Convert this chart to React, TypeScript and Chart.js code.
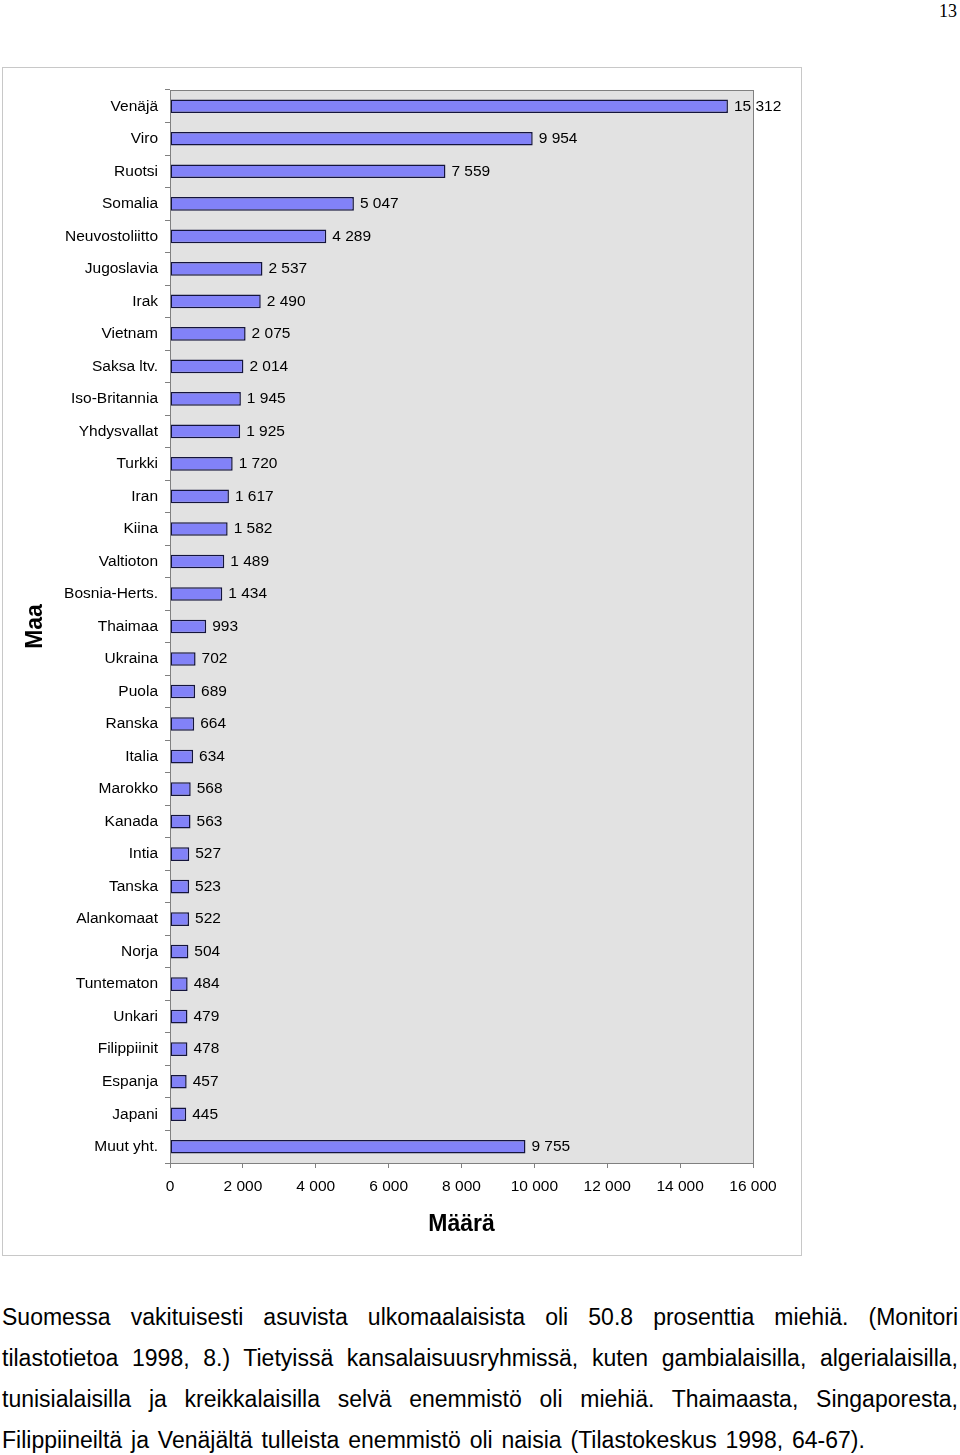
import React, { useEffect, useRef } from "react";
import { Chart, registerables } from "chart.js";

Chart.register(...registerables);

const categories: string[] = [
  "Venäjä", "Viro", "Ruotsi", "Somalia", "Neuvostoliitto", "Jugoslavia", "Irak", "Vietnam",
  "Saksa ltv.", "Iso-Britannia", "Yhdysvallat", "Turkki", "Iran", "Kiina", "Valtioton",
  "Bosnia-Herts.", "Thaimaa", "Ukraina", "Puola", "Ranska", "Italia", "Marokko", "Kanada",
  "Intia", "Tanska", "Alankomaat", "Norja", "Tuntematon", "Unkari", "Filippiinit", "Espanja",
  "Japani", "Muut yht.",
];

const values: number[] = [
  15312, 9954, 7559, 5047, 4289, 2537, 2490, 2075, 2014, 1945, 1925, 1720, 1617, 1582, 1489,
  1434, 993, 702, 689, 664, 634, 568, 563, 527, 523, 522, 504, 484, 479, 478, 457, 445, 9755,
];

const xMin = 0;
const xMax = 16000;
const xStep = 2000;

const xTitle = "Määrä";
const yTitle = "Maa";

const paragraph =
  "Suomessa vakituisesti asuvista ulkomaalaisista oli 50.8 prosenttia miehiä. (Monitori tilastotietoa 1998, 8.) Tietyissä kansalaisuusryhmissä, kuten gambialaisilla, algerialaisilla, tunisialaisilla ja kreikkalaisilla selvä enemmistö oli miehiä. Thaimaasta, Singaporesta, Filippiineiltä ja Venäjältä tulleista enemmistö oli naisia (Tilastokeskus 1998, 64-67).";

const FONT = "'Liberation Sans', Arial, Helvetica, sans-serif";

const fmt = (v: number) => {
  const s = String(Math.round(v));
  return s.replace(/\B(?=(\d{3})+(?!\d))/g, " ");
};

const plotBg = {
  id: "plotBg",
  beforeDraw(chart: any) {
    const { ctx, chartArea } = chart;
    if (!chartArea) return;
    ctx.save();
    ctx.fillStyle = "#e2e2e2";
    ctx.fillRect(chartArea.left, chartArea.top, chartArea.right - chartArea.left, chartArea.bottom - chartArea.top);
    ctx.restore();
  },
  afterDraw(chart: any) {
    const { ctx, chartArea } = chart;
    ctx.save();
    ctx.strokeStyle = "#808080";
    ctx.lineWidth = 1;
    ctx.strokeRect(
      Math.round(chartArea.left) + 0.5,
      Math.round(chartArea.top) + 0.5,
      Math.round(chartArea.right - chartArea.left),
      Math.round(chartArea.bottom - chartArea.top)
    );
    ctx.restore();
  },
};

const valueLabels = {
  id: "valueLabels",
  afterDatasetsDraw(chart: any) {
    const { ctx } = chart;
    const meta = chart.getDatasetMeta(0);
    const data = chart.data.datasets[0].data as number[];
    ctx.save();
    ctx.font = `15.5px ${FONT}`;
    ctx.fillStyle = "#000";
    ctx.textAlign = "left";
    ctx.textBaseline = "middle";
    meta.data.forEach((el: any, i: number) => {
      ctx.fillText(fmt(data[i]), el.x + 6, el.y);
    });
    ctx.restore();
  },
};

function BarChart() {
  const ref = useRef<HTMLCanvasElement | null>(null);
  useEffect(() => {
    if (!ref.current) return;
    const chart = new Chart(ref.current, {
      type: "bar",
      data: {
        labels: categories,
        datasets: [
          {
            data: values,
            backgroundColor: "#8282f8",
            borderColor: "#14143c",
            borderWidth: 1.5,
            borderSkipped: false,
            barPercentage: 0.42,
            categoryPercentage: 1,
          },
        ],
      },
      options: {
        indexAxis: "y",
        animation: false,
        responsive: false,
        maintainAspectRatio: false,
        devicePixelRatio: 1,
        layout: { padding: { top: 23, right: 49, left: 0, bottom: 0 } },
        plugins: {
          legend: { display: false },
          tooltip: { enabled: false },
        },
        scales: {
          x: {
            type: "linear",
            min: xMin,
            max: xMax,
            afterFit(scale: any) {
              scale.height = 93;
            },
            ticks: {
              stepSize: xStep,
              color: "#000",
              font: { size: 15.5, family: FONT },
              padding: 9,
              maxRotation: 0,
              callback: (v: any) => fmt(Number(v)),
            },
            grid: {
              drawOnChartArea: false,
              drawTicks: true,
              tickLength: 5,
              color: "#808080",
            },
            border: { display: true, color: "#808080" },
            title: {
              display: true,
              text: xTitle,
              color: "#000",
              font: { size: 23, weight: "bold", family: FONT },
              padding: { top: 0, bottom: 18 },
            },
          },
          y: {
            type: "category",
            afterFit(scale: any) {
              scale.width = 168;
            },
            ticks: {
              color: "#000",
              font: { size: 15.5, family: FONT },
              padding: 7,
              autoSkip: false,
            },
            grid: {
              drawOnChartArea: false,
              drawTicks: true,
              tickLength: 5,
              offset: true,
              color: "#808080",
            },
            border: { display: true, color: "#808080" },
            title: {
              display: true,
              text: yTitle,
              color: "#000",
              font: { size: 23, weight: "bold", family: FONT },
              padding: { top: 20, bottom: 0 },
            },
          },
        },
      },
      plugins: [plotBg, valueLabels],
    });
    return () => chart.destroy();
  }, []);
  return (
    <canvas
      ref={ref}
      width={800}
      height={1189}
      style={{ position: "absolute", left: 2, top: 67, width: 800, height: 1189 }}
    />
  );
}

export default function App() {
  return (
    <div
      style={{
        position: "absolute",
        left: 0,
        top: 0,
        width: 960,
        height: 1455,
        overflow: "hidden",
        background: "#fff",
      }}
    >
      <div
        style={{
          position: "absolute",
          right: 3,
          top: 0,
          fontFamily: "'Liberation Serif', 'Times New Roman', serif",
          fontSize: 18,
          lineHeight: "22px",
          color: "#000",
        }}
      >
        13
      </div>
      <div
        style={{
          position: "absolute",
          left: 2,
          top: 67,
          width: 800,
          height: 1189,
          boxSizing: "border-box",
          border: "1px solid #c8c8c8",
        }}
      />
      <BarChart />
      <div
        style={{
          position: "absolute",
          left: 2,
          top: 1297,
          width: 956,
          fontFamily: FONT,
          fontSize: 23,
          lineHeight: "41px",
          textAlign: "justify",
          wordSpacing: "2.5px",
          color: "#000",
        }}
      >
        {paragraph}
      </div>
    </div>
  );
}
